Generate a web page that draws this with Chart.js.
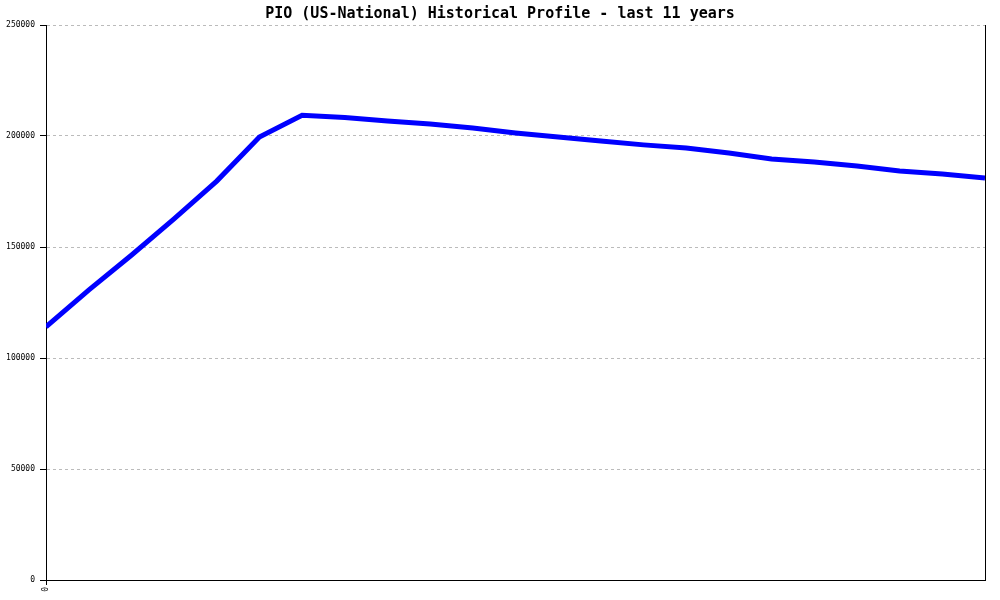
<!DOCTYPE html>
<html>
<head>
<meta charset="utf-8">
<script src="https://cdn.jsdelivr.net/npm/chart.js@4"></script>
<style>
  body { margin: 0; background: #fff; }
</style>
</head>
<body>
<canvas id="profileChart" width="1000" height="600"></canvas>
<script>
// Half-year samples over the last 11 years
const periods = [0, 1, 2, 3, 4, 5, 6, 7, 8, 9, 10, 11, 12, 13, 14, 15, 16, 17, 18, 19, 20, 21, 22];
const values = [114000, 130600, 146300, 162700, 179700, 199500, 209300, 208300, 206800, 205400,
                203600, 201400, 199500, 197700, 196000, 194600, 192300, 189600, 188300, 186500,
                184200, 182900, 181100];
const xTickLabels = ['0'];
const yTicks = [0, 50000, 100000, 150000, 200000, 250000];

const ctx = document.getElementById('profileChart').getContext('2d');
new Chart(ctx, {
    type: 'line',
    data: {
        datasets: [{
            data: periods.map((p, i) => ({ x: p, y: values[i] })),
            borderColor: '#0000ff',
            borderWidth: 5,
            pointRadius: 0,
            tension: 0,
            fill: false
        }]
    },
    options: {
        responsive: false,
        animation: false,
        layout: { padding: 0 },
        plugins: {
            legend: { display: false },
            tooltip: { enabled: false },
            title: {
                display: true,
                text: 'PIO (US-National) Historical Profile - last 11 years',
                color: '#000',
                font: { family: 'DejaVu Sans Mono', size: 15, weight: 'bold', lineHeight: 1.2 },
                padding: { top: 5, bottom: 2 }
            }
        },
        scales: {
            x: {
                type: 'linear',
                min: periods[0],
                max: periods[periods.length - 1],
                afterBuildTicks: axis => { axis.ticks = [{ value: 0 }]; },
                afterFit: axis => { axis.height = 20; },
                ticks: {
                    callback: (v, i) => xTickLabels[i],
                    minRotation: 90,
                    maxRotation: 90,
                    color: '#000',
                    padding: 2,
                    font: { family: 'DejaVu Sans Mono', size: 8 }
                },
                grid: {
                    drawOnChartArea: false,
                    tickLength: 5,
                    tickColor: '#000'
                },
                border: { color: '#000', width: 1 }
            },
            y: {
                min: 0,
                max: 250000,
                afterBuildTicks: axis => { axis.ticks = yTicks.map(v => ({ value: v })); },
                afterFit: axis => { axis.width = 46; },
                ticks: {
                    callback: v => String(v),
                    color: '#000',
                    padding: 5,
                    font: { family: 'DejaVu Sans Mono', size: 8 }
                },
                grid: {
                    color: '#bbbbbb',
                    tickLength: 6,
                    tickColor: '#000'
                },
                border: { color: '#000', width: 1, dash: [3, 3] }
            },
            // empty right axis: gives the black frame line on the right
            yRight: {
                position: 'right',
                min: 0,
                max: 250000,
                afterFit: axis => { axis.width = 15; },
                ticks: { display: false },
                grid: { display: false },
                border: { color: '#000', width: 1 }
            }
        }
    }
});
</script>
</body>
</html>
